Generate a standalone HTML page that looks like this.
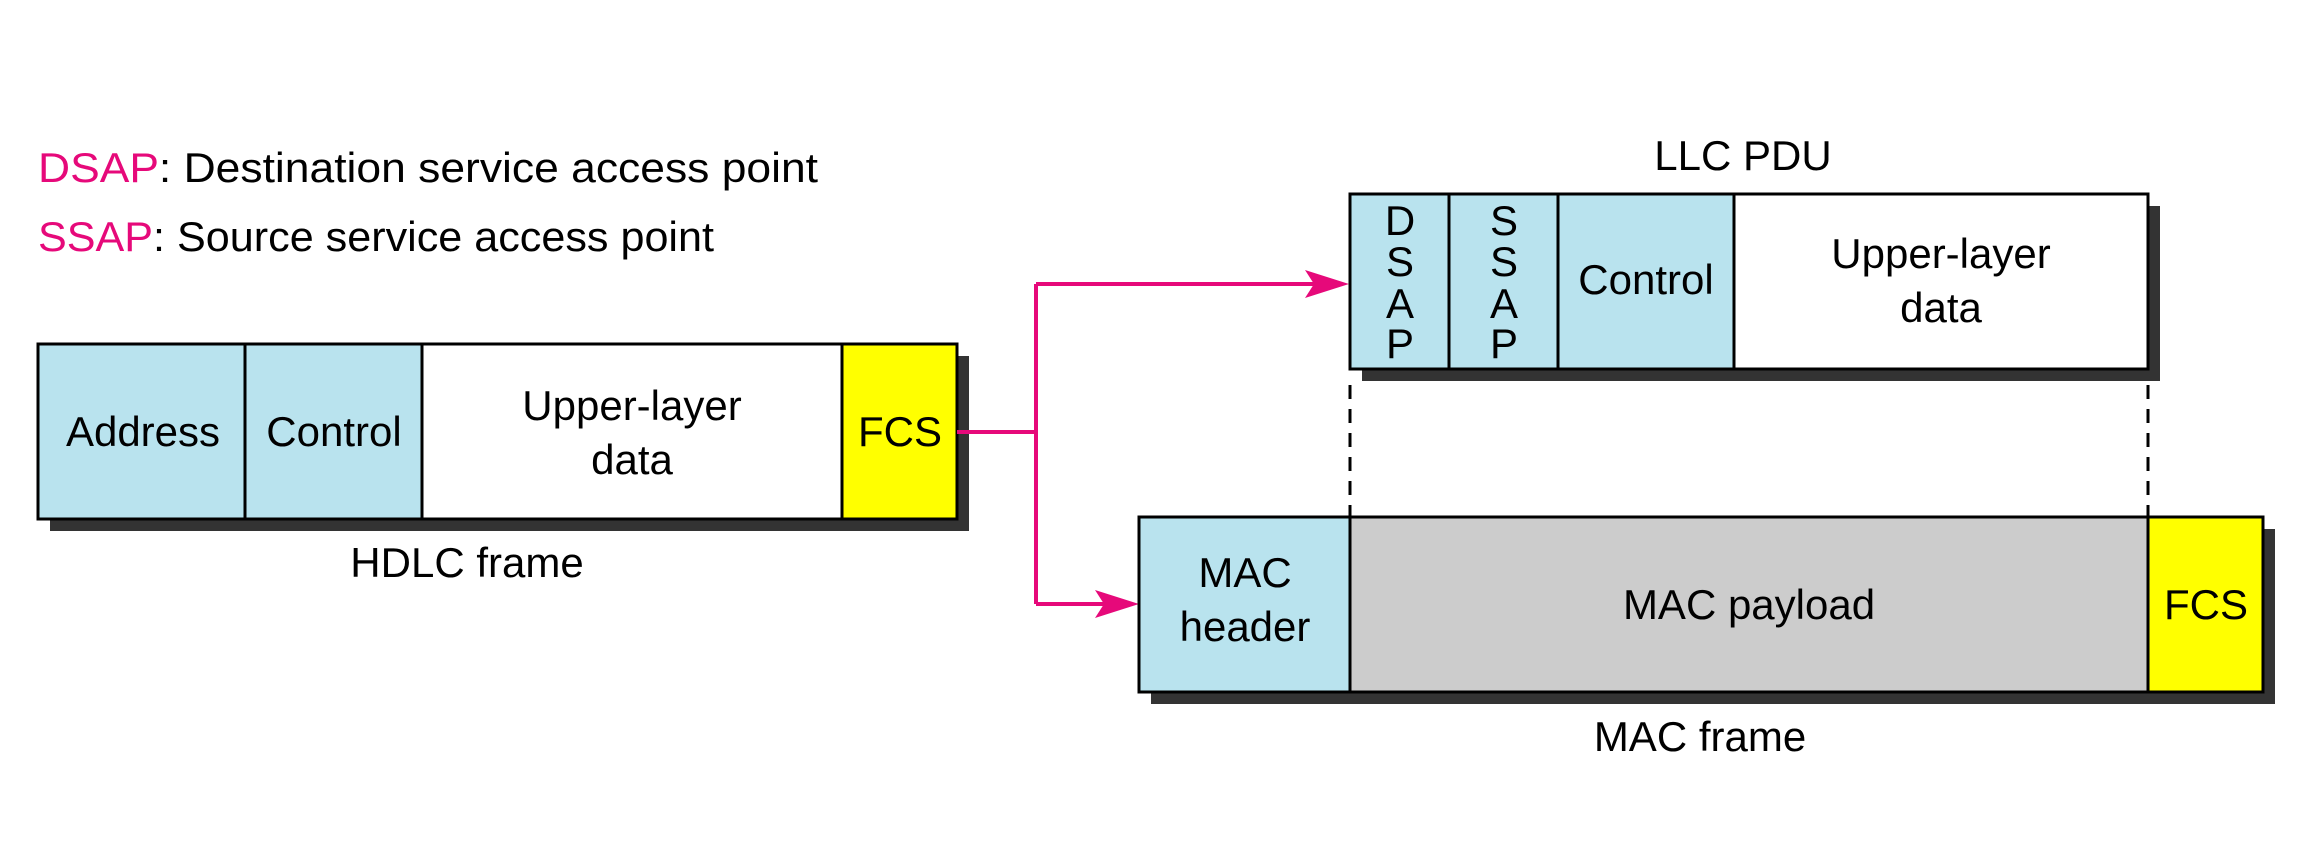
<!DOCTYPE html>
<html><head><meta charset="utf-8"><style>
html,body{margin:0;padding:0;background:#fff;}
svg{display:block;}
text{font-family:"Liberation Sans Narrow","Liberation Sans",sans-serif;font-size:42px;fill:#000;}
</style></head><body>
<svg width="2304" height="845" viewBox="0 0 2304 845" xmlns="http://www.w3.org/2000/svg">
<defs>
<marker id="ah" markerWidth="10" markerHeight="10" refX="9" refY="5" orient="auto" markerUnits="userSpaceOnUse" viewBox="0 0 10 10">
</marker>
</defs>
<!-- legend -->
<text x="38" y="182" textLength="780" lengthAdjust="spacingAndGlyphs"><tspan fill="#e6097a">DSAP</tspan>: Destination service access point</text>
<text x="38" y="251" textLength="676" lengthAdjust="spacingAndGlyphs"><tspan fill="#e6097a">SSAP</tspan>: Source service access point</text>

<!-- HDLC frame -->
<rect x="50" y="356" width="919" height="175" fill="#333"/>
<rect x="38" y="344" width="207" height="175" fill="#b9e3ee"/>
<rect x="245" y="344" width="177" height="175" fill="#b9e3ee"/>
<rect x="422" y="344" width="420" height="175" fill="#fff"/>
<rect x="842" y="344" width="115" height="175" fill="#ffff00"/>
<rect x="38" y="344" width="919" height="175" fill="none" stroke="#000" stroke-width="3"/>
<line x1="245" y1="344" x2="245" y2="519" stroke="#000" stroke-width="3"/>
<line x1="422" y1="344" x2="422" y2="519" stroke="#000" stroke-width="3"/>
<line x1="842" y1="344" x2="842" y2="519" stroke="#000" stroke-width="3"/>
<text x="143" y="446" text-anchor="middle">Address</text>
<text x="334" y="446" text-anchor="middle">Control</text>
<text x="632" y="420" text-anchor="middle">Upper-layer</text>
<text x="632" y="474" text-anchor="middle">data</text>
<text x="900" y="446" text-anchor="middle">FCS</text>
<text x="467" y="577" text-anchor="middle">HDLC frame</text>

<!-- pink connectors -->
<polyline points="957,432 1036,432" fill="none" stroke="#e6097a" stroke-width="4"/>
<polyline points="1036,284 1036,604" fill="none" stroke="#e6097a" stroke-width="4"/>
<line x1="1036" y1="284" x2="1320" y2="284" stroke="#e6097a" stroke-width="4"/>
<polygon points="1349,284 1305,270 1314,284 1305,298" fill="#e6097a"/>
<line x1="1036" y1="604" x2="1110" y2="604" stroke="#e6097a" stroke-width="4"/>
<polygon points="1139,604 1095,590 1104,604 1095,618" fill="#e6097a"/>

<!-- LLC PDU -->
<text x="1743" y="170" text-anchor="middle">LLC PDU</text>
<rect x="1362" y="206" width="798" height="175" fill="#333"/>
<rect x="1350" y="194" width="384" height="175" fill="#b9e3ee"/>
<rect x="1734" y="194" width="414" height="175" fill="#fff"/>
<rect x="1350" y="194" width="798" height="175" fill="none" stroke="#000" stroke-width="3"/>
<line x1="1449" y1="194" x2="1449" y2="369" stroke="#000" stroke-width="3"/>
<line x1="1558" y1="194" x2="1558" y2="369" stroke="#000" stroke-width="3"/>
<line x1="1734" y1="194" x2="1734" y2="369" stroke="#000" stroke-width="3"/>
<g text-anchor="middle">
<text x="1400" y="235">D</text><text x="1400" y="276">S</text><text x="1400" y="318">A</text><text x="1400" y="358">P</text>
<text x="1504" y="235">S</text><text x="1504" y="276">S</text><text x="1504" y="318">A</text><text x="1504" y="358">P</text>
</g>
<text x="1646" y="294" text-anchor="middle">Control</text>
<text x="1941" y="268" text-anchor="middle">Upper-layer</text>
<text x="1941" y="322" text-anchor="middle">data</text>

<!-- dashed -->
<line x1="1350" y1="385" x2="1350" y2="517" stroke="#000" stroke-width="3" stroke-dasharray="14,10"/>
<line x1="2148" y1="385" x2="2148" y2="517" stroke="#000" stroke-width="3" stroke-dasharray="14,10"/>

<!-- MAC frame -->
<rect x="1151" y="529" width="1124" height="175" fill="#333"/>
<rect x="1139" y="517" width="211" height="175" fill="#b9e3ee"/>
<rect x="1350" y="517" width="798" height="175" fill="#cccccc"/>
<rect x="2148" y="517" width="115" height="175" fill="#ffff00"/>
<rect x="1139" y="517" width="1124" height="175" fill="none" stroke="#000" stroke-width="3"/>
<line x1="1350" y1="517" x2="1350" y2="692" stroke="#000" stroke-width="3"/>
<line x1="2148" y1="517" x2="2148" y2="692" stroke="#000" stroke-width="3"/>
<text x="1245" y="587" text-anchor="middle">MAC</text>
<text x="1245" y="641" text-anchor="middle">header</text>
<text x="1749" y="619" text-anchor="middle">MAC payload</text>
<text x="2206" y="619" text-anchor="middle">FCS</text>
<text x="1700" y="751" text-anchor="middle">MAC frame</text>
</svg>
</body></html>
